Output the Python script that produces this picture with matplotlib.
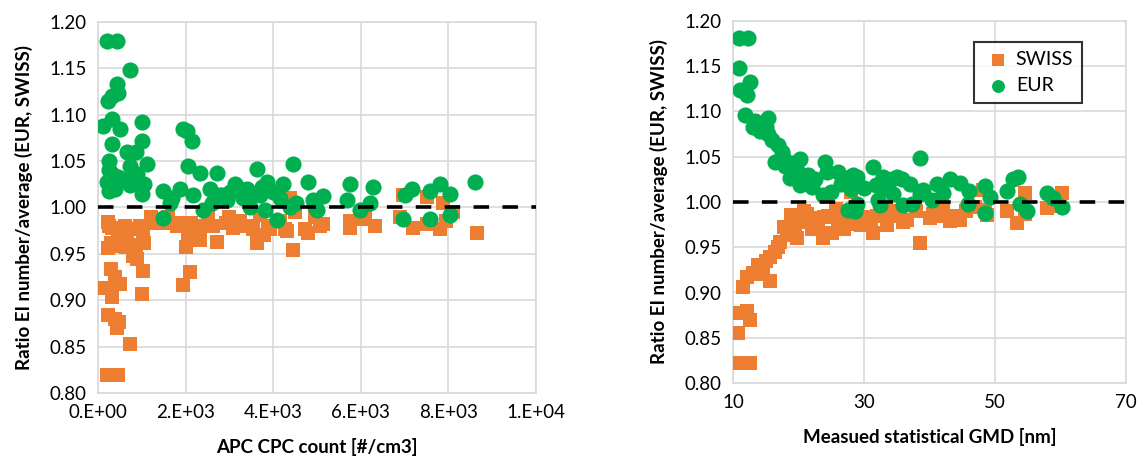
import numpy as np
import matplotlib
matplotlib.use("Agg")
import matplotlib.pyplot as plt

plt.rcParams['font.family'] = ['Lato', 'DejaVu Sans']

# left panel: ratio vs APC CPC count
cpc_eur_x = [205, 434, 730, 434, 460, 230, 320, 114, 320, 500, 1000, 320, 1000, 660, 870,
             250, 730, 1120, 320, 460, 250, 390, 730, 900, 1000, 1050, 250, 600, 200,
             1480, 1640, 1480, 1870, 2050, 1940, 2030, 2140, 2330, 2710,
             2400, 2170, 2560, 2790, 2950, 3010, 3170, 3400, 3470, 3620, 3700, 3750, 3810, 3860,
             4000, 4090, 4220, 4380, 4450, 4530, 4800, 4910, 4960, 5000, 5140, 5690, 5750, 5980,
             6210, 6280, 6960, 7010, 7170, 7580, 7580, 7800, 8040, 8040, 8610, 3130, 2850, 3300,
             3550, 1700, 2600, 4150]
cpc_eur_y = [1.180, 1.180, 1.148, 1.133, 1.123, 1.115, 1.120, 1.088, 1.095, 1.085, 1.092, 1.069, 1.072, 1.060, 1.060,
             1.050, 1.045, 1.047, 1.036, 1.033, 1.018, 1.020, 1.024, 1.036, 1.015, 1.025, 1.040, 1.030, 1.028,
             1.018, 1.005, 0.989, 1.020, 1.045, 1.085, 1.083, 1.072, 1.037, 1.037,
             0.997, 1.013, 1.020, 1.013, 1.008, 1.017, 1.022, 1.020, 1.000, 1.042, 1.013, 1.022, 0.997, 1.028,
             1.017, 0.986, 1.025, 1.000, 1.047, 1.005, 1.027, 1.008, 1.000, 0.997, 1.012, 1.008, 1.025, 0.997,
             1.005, 1.022, 0.988, 1.014, 1.020, 1.018, 0.988, 1.025, 1.015, 0.992, 1.028, 1.025, 1.013, 1.010,
             1.015, 1.010, 1.005, 1.010]

cpc_swiss_x = [114, 205, 340, 460, 730, 230, 390, 430, 480, 320, 300, 500, 300, 390, 1000, 230, 300, 320, 250,
               460, 620, 640, 660, 800, 900, 1030, 960, 1050, 1020, 870, 770, 540, 230,
               1340, 1480, 1260, 1460, 1830, 1940, 2090, 2020, 2090, 2330, 2710, 1800, 2330, 2620, 3080, 3240,
               3540, 3620, 3780, 3930, 4160, 4310, 4460, 2930, 3390, 2050, 2130, 2280, 3130, 3880, 4270, 4730,
               4960, 4800, 5070, 5140, 5750, 5750, 6050, 6320, 6090, 6960, 7190, 7500, 7800, 7950, 8650, 6900,
               7510, 7880, 8100, 2500, 3000, 3700, 4500, 1600, 1200, 4380]
cpc_swiss_y = [0.913, 0.819, 0.819, 0.819, 0.853, 0.884, 0.880, 0.870, 0.877, 0.903, 0.913, 0.917, 0.934, 0.925,
               0.907, 0.956, 0.962, 0.978, 0.980, 0.967, 0.980, 0.957, 0.965, 0.948, 0.945, 0.932, 0.980, 0.962,
               0.972, 0.960, 0.977, 0.958, 0.984,
               0.985, 0.983, 0.983, 0.983, 0.983, 0.916, 0.930, 0.957, 0.980, 0.965, 0.963, 0.980, 0.980, 0.980,
               0.978, 0.985, 0.977, 0.962, 0.970, 0.977, 0.985, 0.975, 0.954, 0.983, 0.980, 0.965, 0.983, 0.980,
               0.980, 0.980, 0.977, 0.977, 0.990, 0.973, 0.980, 0.982, 0.978, 0.985, 0.988, 0.980, 0.990, 1.013,
               0.978, 0.982, 0.977, 0.985, 0.972, 0.990, 1.011, 1.005, 0.995, 0.990, 0.990, 0.992, 0.995, 0.990,
               0.990, 1.010]

# right panel: ratio vs measured GMD
gmd_eur_x = [10.9, 12.3, 10.9, 12.6, 11.1, 12.1, 11.8, 13.4, 15.3, 14.1, 13.1, 15.0, 15.3, 15.9, 16.9, 16.4,
             17.6, 19.0, 20.2, 18.7, 19.9, 21.5, 20.2, 22.1, 24.0, 24.4, 26.0, 23.7, 25.0, 27.9, 28.3, 28.0,
             28.3, 28.9, 31.4, 31.9, 32.1, 34.3, 27.5, 27.2, 32.4, 36.0, 39.0, 35.0, 38.5, 28.9, 32.9, 35.8,
             43.1, 44.7, 41.1, 40.4, 37.3, 45.9, 48.5, 48.5, 49.2, 51.8, 52.7, 53.5, 53.8, 54.9, 57.9, 58.9,
             60.2, 28.6, 34.4, 38.5, 22.5, 26.5, 30.0, 33.0, 37.0, 42.0, 46.0, 17.5, 18.0, 21.0]
gmd_eur_y = [1.181, 1.181, 1.148, 1.133, 1.124, 1.118, 1.096, 1.090, 1.093, 1.078, 1.083, 1.083, 1.075, 1.068,
             1.063, 1.044, 1.050, 1.043, 1.047, 1.026, 1.033, 1.030, 1.019, 1.017, 1.044, 1.033, 1.033, 1.008,
             1.011, 1.028, 1.030, 1.014, 0.993, 0.998, 1.039, 1.019, 1.002, 1.025, 0.991, 1.027, 0.997, 0.997,
             1.013, 1.028, 1.049, 1.028, 1.028, 1.025, 1.025, 1.021, 1.020, 1.002, 0.998, 0.998, 0.988, 1.018,
             1.005, 1.012, 1.025, 1.028, 0.998, 0.990, 1.010, 1.004, 0.995, 0.990, 1.009, 1.009, 1.025, 1.020,
             1.015, 1.015, 1.020, 1.010, 1.012, 1.055, 1.040, 1.022]

gmd_swiss_x = [11.1, 12.6, 10.8, 11.1, 12.1, 12.6, 11.5, 12.1, 13.1, 14.6, 15.6, 14.0, 15.6, 16.4, 17.2, 18.2,
               19.5, 20.2, 18.9, 21.3, 22.8, 23.7, 25.1, 23.9, 27.4, 28.0, 31.4, 29.5, 33.5, 28.0, 38.5, 36.5,
               43.1, 40.5, 44.7, 48.2, 48.5, 51.8, 53.3, 54.6, 54.6, 57.9, 60.2, 59.5, 48.8, 41.7, 16.9, 19.0,
               21.0, 24.5, 26.0, 30.0, 32.0, 35.0, 38.0, 42.0, 45.5, 47.0, 17.8, 20.8, 22.0, 25.8, 29.0, 34.0,
               13.8, 15.0, 19.8, 23.0, 27.0, 31.0, 36.0, 40.0, 44.0]
gmd_swiss_y = [0.822, 0.822, 0.855, 0.877, 0.880, 0.870, 0.906, 0.917, 0.922, 0.926, 0.913, 0.920, 0.939, 0.945,
               0.956, 0.963, 0.975, 0.982, 0.986, 0.987, 0.982, 0.960, 0.966, 0.983, 0.980, 0.976, 0.966, 0.975,
               0.975, 1.011, 0.955, 0.980, 0.979, 0.987, 0.980, 1.013, 0.991, 0.990, 0.977, 1.010, 0.987, 0.993,
               1.010, 0.996, 0.986, 0.985, 0.950, 0.970, 0.978, 0.985, 0.978, 0.983, 0.985, 0.985, 0.990, 0.992,
               0.990, 0.995, 0.972, 0.990, 0.970, 0.992, 0.988, 0.990, 0.930, 0.935, 0.960, 0.975, 0.970, 0.978,
               0.978, 0.982, 0.985]

y_ticks = [0.80, 0.85, 0.90, 0.95, 1.00, 1.05, 1.10, 1.15, 1.20]
cpc_ticks = [0, 2000, 4000, 6000, 8000, 10000]
cpc_labels = ['0.E+00', '2.E+03', '4.E+03', '6.E+03', '8.E+03', '1.E+04']
gmd_ticks = [10, 30, 50, 70]

orange = '#ED7D31'
green = '#00B050'
grid_c = '#d9d9d9'

fig = plt.figure(figsize=(11.41, 4.67), dpi=100)
ax1 = fig.add_axes([98/1141, 74/467, 438/1141, 371/467])
ax2 = fig.add_axes([733/1141, 84/467, 393/1141, 362/467])

def style(ax):
    ax.set_axisbelow(True)
    ax.grid(True, color=grid_c, lw=1.2)
    for s in ax.spines.values():
        s.set_color(grid_c)
        s.set_linewidth(1.2)
    ax.tick_params(length=0, labelsize=13.5, pad=8)
    ax.set_ylim(0.80, 1.20)
    ax.set_yticks(y_ticks)
    ax.set_yticklabels(['%.2f' % v for v in y_ticks])
    ax.set_ylabel('Ratio EI number/average (EUR, SWISS)', fontsize=13.5, fontweight='bold', labelpad=12)

style(ax1)
ax1.scatter(cpc_swiss_x, cpc_swiss_y, marker='s', s=110, color=orange, lw=0, zorder=3)
ax1.scatter(cpc_eur_x, cpc_eur_y, marker='o', s=135, color=green, lw=0, zorder=4)
ax1.axhline(1.0, color='black', lw=2.6, dashes=(4.3, 3.7), zorder=5)
ax1.set_xlim(0, 10000)
ax1.set_xticks(cpc_ticks)
ax1.set_xticklabels(cpc_labels)
ax1.set_xlabel('APC CPC count [#/cm3]', fontsize=13.5, fontweight='bold', labelpad=12)

style(ax2)
ax2.scatter(gmd_swiss_x, gmd_swiss_y, marker='s', s=110, color=orange, lw=0, zorder=3, label='SWISS')
ax2.scatter(gmd_eur_x, gmd_eur_y, marker='o', s=135, color=green, lw=0, zorder=4, label='EUR')
ax2.axhline(1.0, color='black', lw=2.6, dashes=(4.3, 3.7), zorder=5)
ax2.set_xlim(10, 70)
ax2.set_xticks(gmd_ticks)
ax2.set_xlabel('Measued statistical GMD [nm]', fontsize=13.5, fontweight='bold', labelpad=12)

leg = ax2.legend(loc='upper right', bbox_to_anchor=(0.913, 0.968), fontsize=14, frameon=True,
                 fancybox=False, edgecolor='black', handletextpad=0.1, borderpad=0.45,
                 labelspacing=0.45, markerscale=0.8, handlelength=1.6)
leg.get_frame().set_linewidth(1.5)

fig.savefig('out.png', dpi=100, facecolor='white')
